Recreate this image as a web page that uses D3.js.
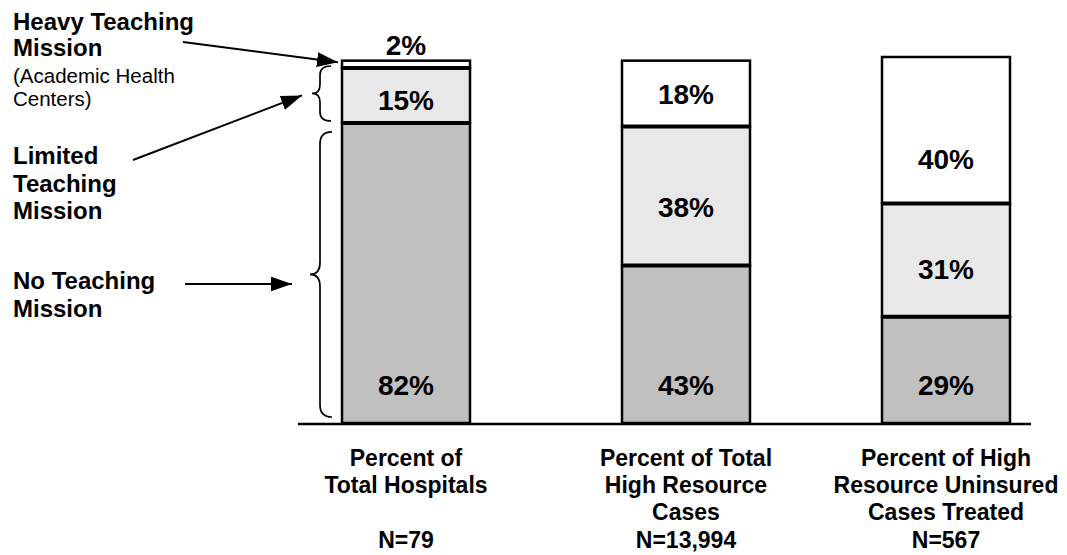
<!DOCTYPE html>
<html>
<head>
<meta charset="utf-8">
<script src="https://cdn.jsdelivr.net/npm/d3@7/dist/d3.min.js"></script>
<style>
  html, body { margin: 0; padding: 0; background: #fff; }
  svg { display: block; font-family: "Liberation Sans", Arial, Helvetica, sans-serif; }
</style>
</head>
<body>
<svg id="chart" width="1067" height="555"></svg>
<script>
// Share of hospitals / cases by teaching mission
const categories = ["Total Hospitals", "High Resource Cases", "High Resource Uninsured Cases Treated"];
const categoryLines = [
  ["Percent of", "Total Hospitals"],
  ["Percent of Total", "High Resource", "Cases"],
  ["Percent of High", "Resource Uninsured", "Cases Treated"]
];
const sampleSizes = ["N=79", "N=13,994", "N=567"];
const seriesKeys = ["none", "limited", "heavy"];
const noTeaching = [82, 43, 29];
const limitedTeaching = [15, 38, 31];
const heavyTeaching = [2, 18, 40];

const fills = { none: "#c0c0c0", limited: "#e8e8e8", heavy: "#ffffff" };

const rows = categories.map((c, i) => ({
  category: c,
  none: noTeaching[i],
  limited: limitedTeaching[i],
  heavy: heavyTeaching[i]
}));

const svg = d3.select("#chart");
const barWidth = 128;

const x = d3.scaleOrdinal().domain(categories).range([406, 686, 946]);
const y = d3.scaleLinear().domain([0, 100]).range([423, 57]);

const stacked = d3.stack().keys(seriesKeys)(rows);

// Bars
const layers = svg.append("g").selectAll("g")
  .data(stacked)
  .join("g")
  .attr("fill", d => fills[d.key]);

layers.selectAll("rect")
  .data(d => d)
  .join("rect")
  .attr("x", d => x(d.data.category) - barWidth / 2)
  .attr("width", barWidth)
  .attr("y", d => y(d[1]))
  .attr("height", d => y(d[0]) - y(d[1]))
  .attr("stroke", "#000")
  .attr("stroke-width", 2.5);

// Heavier rules between stacked segments
const joins = [];
stacked.slice(1).forEach(layer => layer.forEach(d => joins.push(d)));
svg.append("g").selectAll("line")
  .data(joins)
  .join("line")
  .attr("x1", d => x(d.data.category) - barWidth / 2)
  .attr("x2", d => x(d.data.category) + barWidth / 2)
  .attr("y1", d => y(d[0]))
  .attr("y2", d => y(d[0]))
  .attr("stroke", "#000")
  .attr("stroke-width", 4);

// Baseline
svg.append("line")
  .attr("x1", 298).attr("x2", 1031)
  .attr("y1", y(0) + 1).attr("y2", y(0) + 1)
  .attr("stroke", "#000").attr("stroke-width", 2.5);

// Segment value labels
const labelData = [];
stacked.forEach((layer, li) => layer.forEach(d => labelData.push({ d, li })));
svg.append("g").selectAll("text")
  .data(labelData)
  .join("text")
  .attr("x", o => x(o.d.data.category))
  .attr("y", o => {
    const top = y(o.d[1]), bottom = y(o.d[0]);
    const h = bottom - top;
    const mid = (top + bottom) / 2;
    if (h < 20) return top - 6;              // too thin: sit above the bar
    let center;
    if (o.li === 0) center = bottom - 38;
    else if (o.li === 1) center = mid + h * 0.08;
    else center = Math.max(mid, bottom - 44);
    return center + 10;
  })
  .attr("text-anchor", "middle")
  .attr("font-size", 28)
  .attr("font-weight", "bold")
  .attr("fill", "#000")
  .text(o => (o.d[1] - o.d[0]) + "%");

// Category labels under the axis
const catG = svg.append("g").selectAll("text")
  .data(categories)
  .join("text")
  .attr("text-anchor", "middle")
  .attr("font-size", 23)
  .attr("font-weight", "bold")
  .attr("fill", "#000");

catG.each(function (c, i) {
  const t = d3.select(this);
  categoryLines[i].forEach((line, j) => {
    t.append("tspan").attr("x", x(c)).attr("y", 466 + j * 27).text(line);
  });
  t.append("tspan").attr("x", x(c)).attr("y", 548).text(sampleSizes[i]);
});

// Left-hand legend text
const legend = svg.append("g").attr("fill", "#000");
function addLines(lines, startY, step, size, weight) {
  lines.forEach((s, j) => {
    legend.append("text")
      .attr("x", 13).attr("y", startY + j * step)
      .attr("font-size", size).attr("font-weight", weight)
      .text(s);
  });
}
addLines(["Heavy Teaching", "Mission"], 30, 26, 24, "bold");
addLines(["(Academic Health", "Centers)"], 83, 23, 20.5, "normal");
addLines(["Limited", "Teaching", "Mission"], 164, 27.5, 24, "bold");
addLines(["No Teaching", "Mission"], 289, 27.5, 24, "bold");

// Arrow marker
svg.append("defs").append("marker")
  .attr("id", "arrow")
  .attr("viewBox", "0 0 20 14")
  .attr("refX", 20).attr("refY", 7)
  .attr("markerWidth", 21).attr("markerHeight", 15)
  .attr("markerUnits", "userSpaceOnUse")
  .attr("orient", "auto")
  .append("path")
  .attr("d", "M0,0 L20,7 L0,14 Z")
  .attr("fill", "#000");

// Braces alongside the first bar
const firstBar = stacked.map(layer => layer[0]);
const barLeft = x(categories[0]) - barWidth / 2;

function bracePath(xl, xm, xr, top, bottom, r) {
  const mid = (top + bottom) / 2;
  return `M${xr},${top} Q${xm},${top} ${xm},${top + r} L${xm},${mid - r} ` +
         `Q${xm},${mid} ${xl},${mid} Q${xm},${mid} ${xm},${mid + r} ` +
         `L${xm},${bottom - r} Q${xm},${bottom} ${xr},${bottom}`;
}

const noneSeg = firstBar[0];
const limitedSeg = firstBar[1];
const heavySeg = firstBar[2];

const smallTop = y(limitedSeg[1]) - 2, smallBot = y(limitedSeg[0]) - 2;
const bigTop = y(noneSeg[1]) + 9, bigBot = y(noneSeg[0]) - 6;

svg.append("path")
  .attr("d", bracePath(barLeft - 30, barLeft - 22, barLeft - 11, smallTop, smallBot, 9))
  .attr("fill", "none").attr("stroke", "#000").attr("stroke-width", 1.7);

svg.append("path")
  .attr("d", bracePath(barLeft - 32, barLeft - 22, barLeft - 10, bigTop, bigBot, 12))
  .attr("fill", "none").attr("stroke", "#000").attr("stroke-width", 1.7);

// Pointer arrows
const heavyMid = (y(heavySeg[0]) + y(heavySeg[1])) / 2;
const smallMid = (smallTop + smallBot) / 2;
const arrows = [
  { x1: 183, y1: 42, x2: barLeft - 4, y2: heavyMid - 2 },
  { x1: 133, y1: 160, x2: barLeft - 40, y2: smallMid + 2 },
  { x1: 185, y1: 284, x2: barLeft - 50, y2: 284 }
];
svg.append("g").selectAll("line")
  .data(arrows)
  .join("line")
  .attr("x1", d => d.x1).attr("y1", d => d.y1)
  .attr("x2", d => d.x2).attr("y2", d => d.y2)
  .attr("stroke", "#000").attr("stroke-width", 2)
  .attr("marker-end", "url(#arrow)");
</script>
</body>
</html>
